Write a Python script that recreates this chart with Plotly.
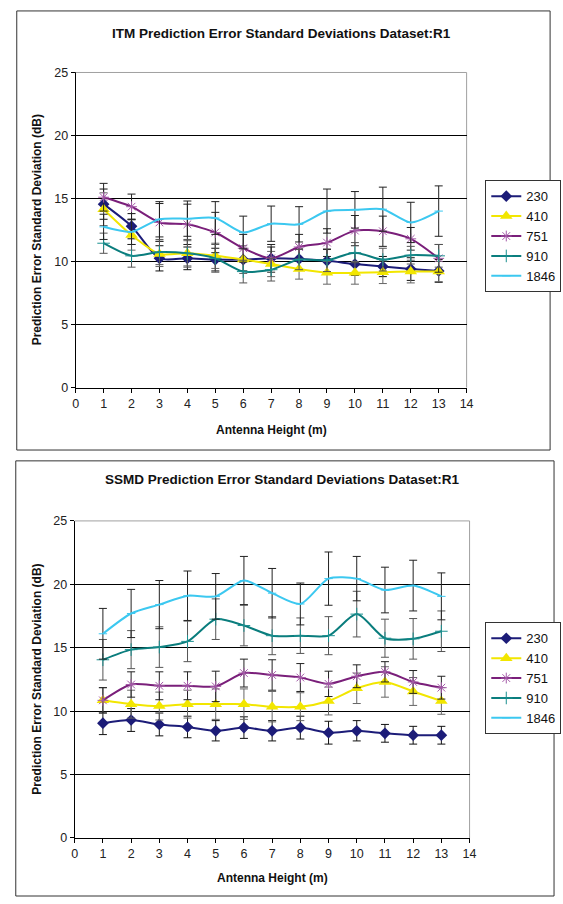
import plotly.graph_objects as go

heights = [1, 2, 3, 4, 5, 6, 7, 8, 9, 10, 11, 12, 13]
series_names = ["230", "410", "751", "910", "1846"]

# ITM chart values
itm_230 = [14.55, 12.8, 10.25, 10.25, 10.15, 10.15, 10.25, 10.2, 10.05, 9.8, 9.6, 9.4, 9.25]
itm_230_err = [1.2, 1.0, 1.0, 0.9, 0.9, 0.9, 0.9, 0.8, 0.9, 0.9, 0.8, 0.9, 0.9]
itm_410 = [14.15, 12.1, 10.6, 10.65, 10.45, 10.15, 9.8, 9.4, 9.1, 9.1, 9.15, 9.2, 9.2]
itm_410_err = [1.3, 1.2, 1.0, 1.0, 1.0, 1.1, 1.0, 0.8, 0.9, 0.9, 0.9, 0.9, 0.8]
itm_751 = [15.1, 14.35, 13.1, 12.95, 12.3, 11.05, 10.25, 11.15, 11.5, 12.45, 12.4, 11.8, 10.25]
itm_751_err = [1.1, 1.0, 1.5, 1.6, 1.6, 1.1, 1.1, 1.0, 1.1, 1.2, 1.2, 0.9, 1.1]
itm_910 = [11.45, 10.45, 10.75, 10.65, 10.25, 9.2, 9.35, 10.15, 10.1, 10.7, 10.15, 10.5, 10.45]
itm_910_err = [0.8, 0.9, 1.0, 1.1, 1.1, 0.9, 0.9, 0.8, 0.9, 0.8, 0.9, 0.7, 0.9]
itm_1846 = [12.75, 12.35, 13.35, 13.4, 13.45, 12.3, 13.0, 12.95, 14.0, 14.1, 14.15, 13.1, 14.0]
itm_1846_err = [1.0, 1.0, 1.4, 1.4, 1.3, 1.3, 1.4, 1.4, 1.75, 1.45, 1.75, 1.6, 2.0]

# SSMD chart values
ssmd_230 = [9.05, 9.3, 8.95, 8.75, 8.45, 8.7, 8.45, 8.7, 8.3, 8.45, 8.25, 8.1, 8.1]
ssmd_230_err = [0.9, 0.9, 0.9, 0.85, 0.8, 0.85, 0.8, 0.9, 0.9, 0.8, 0.7, 0.7, 0.7]
ssmd_410 = [10.85, 10.55, 10.4, 10.55, 10.55, 10.55, 10.35, 10.35, 10.8, 11.8, 12.3, 11.55, 10.8]
ssmd_410_err = [1.0, 1.1, 1.1, 1.1, 1.2, 1.2, 1.2, 1.1, 1.1, 1.2, 1.2, 1.1, 1.05]
ssmd_751 = [10.85, 12.1, 12.0, 12.0, 11.95, 13.0, 12.85, 12.65, 12.15, 12.75, 13.1, 12.3, 11.85]
ssmd_751_err = [1.0, 1.0, 1.1, 1.1, 1.2, 1.1, 1.2, 1.1, 1.0, 0.9, 0.8, 0.9, 0.9]
ssmd_910 = [14.05, 14.85, 15.05, 15.5, 17.25, 16.75, 15.95, 15.95, 15.95, 17.65, 15.75, 15.7, 16.3]
ssmd_910_err = [1.6, 1.5, 1.6, 1.6, 1.6, 1.6, 1.5, 1.4, 1.5, 1.8, 1.5, 1.6, 1.6]
ssmd_1846 = [16.1, 17.7, 18.4, 19.1, 19.05, 20.3, 19.3, 18.45, 20.45, 20.45, 19.55, 19.9, 19.05]
ssmd_1846_err = [2.0, 1.9, 1.9, 1.95, 1.8, 1.9, 1.95, 1.65, 2.1, 1.75, 1.8, 2.0, 1.85]

x_ticks = list(range(0, 15))
y_ticks = [0, 5, 10, 15, 20, 25]

titles = ["ITM Prediction Error Standard Deviations Dataset:R1",
          "SSMD Prediction Error Standard Deviations Dataset:R1"]
x_title = "Antenna Height (m)"
y_title = "Prediction Error Standard Deviation (dB)"

W, H = 563, 904
FONT = "Liberation Sans, Arial, sans-serif"

styles = {
    "230": dict(line="#1c1c78", marker=dict(symbol="diamond", size=9, color="#1c1c78"), err="#111111"),
    "410": dict(line="#f2e600", marker=dict(symbol="triangle-up", size=11, color="#f2e600"), err="#666666"),
    "751": dict(line="#7a1f7a", marker=dict(symbol="asterisk-open", size=9, color="#a45aa8", line=dict(width=1, color="#a45aa8")), err="#222222"),
    "910": dict(line="#0a7d7d", marker=dict(symbol="cross-thin-open", size=9, color="#1a9090", line=dict(width=1, color="#1a9090")), err="#555555"),
    "1846": dict(line="#3cc8f0", marker=dict(symbol="line-ew-open", size=6, color="#3cc8f0", line=dict(width=1, color="#3cc8f0")), err="#222222"),
}

charts = [
    dict(vals=[itm_230, itm_410, itm_751, itm_910, itm_1846],
         errs=[itm_230_err, itm_410_err, itm_751_err, itm_910_err, itm_1846_err],
         xdom=(74, 472), ydom=(386.5, 66.5), box=(14, 4, 557, 450),
         title_y=27, title_x=284, xt_y=430, yt_x=35, leg=(491, 176), legend="legend"),
    dict(vals=[ssmd_230, ssmd_410, ssmd_751, ssmd_910, ssmd_1846],
         errs=[ssmd_230_err, ssmd_410_err, ssmd_751_err, ssmd_910_err, ssmd_1846_err],
         xdom=(73, 475), ydom=(844, 522), box=(13, 461, 561, 903),
         title_y=480, title_x=285, xt_y=885, yt_x=35, leg=(491, 625), legend="legend2"),
]

fig = go.Figure()
shapes = []
annotations = []
layout_extra = {}

for i, ch in enumerate(charts):
    xa = "x" if i == 0 else "x2"
    ya = "y" if i == 0 else "y2"
    for name, vals, errs in zip(series_names, ch["vals"], ch["errs"]):
        st = styles[name]
        fig.add_trace(go.Scatter(
            x=heights, y=vals, name=name, xaxis=xa, yaxis=ya,
            mode="lines+markers",
            line=dict(color=st["line"], width=2, shape="spline", smoothing=0.7),
            marker=st["marker"],
            error_y=dict(type="data", array=errs, visible=True, color=st["err"], thickness=1, width=4),
            legend=ch["legend"],
        ))
    x0, x1 = ch["xdom"]
    yb, yt = ch["ydom"]
    xkey = "xaxis" if i == 0 else "xaxis2"
    ykey = "yaxis" if i == 0 else "yaxis2"
    layout_extra[xkey] = dict(
        domain=[x0 / W, x1 / W], range=[0, 14], tickvals=x_ticks, anchor=ya,
        showline=True, linecolor="#000", linewidth=1, ticks="outside", ticklen=4, tickcolor="#000",
        showgrid=False, zeroline=False, tickfont=dict(family=FONT, size=12.5, color="#222"),
    )
    layout_extra[ykey] = dict(
        domain=[(H - yb) / H, (H - yt) / H], range=[0, 25], tickvals=y_ticks, anchor=xa,
        showline=True, linecolor="#000", linewidth=1, ticks="outside", ticklen=4, tickcolor="#000",
        showgrid=True, gridcolor="#000", gridwidth=1, zeroline=False,
        tickfont=dict(family=FONT, size=12.5, color="#222"),
    )
    bx0, by0, bx1, by1 = ch["box"]
    shapes.append(dict(type="rect", xref="paper", yref="paper",
                       x0=bx0 / W, x1=bx1 / W, y0=(H - by1) / H, y1=(H - by0) / H,
                       line=dict(color="#333", width=1), fillcolor="rgba(0,0,0,0)", layer="below"))
    shapes.append(dict(type="line", xref="paper", yref="paper",
                       x0=x0 / W, x1=x1 / W, y0=(H - yt) / H, y1=(H - yt) / H,
                       line=dict(color="#a0a0a0", width=1), layer="above"))
    shapes.append(dict(type="line", xref="paper", yref="paper",
                       x0=x1 / W, x1=x1 / W, y0=(H - yb) / H, y1=(H - yt) / H,
                       line=dict(color="#a0a0a0", width=1), layer="below"))
    annotations.append(dict(text="<b>%s</b>" % titles[i], xref="paper", yref="paper",
                            x=ch["title_x"] / W, y=(H - ch["title_y"]) / H, showarrow=False,
                            xanchor="center", yanchor="middle",
                            font=dict(family=FONT, size=13.5, color="#111")))
    annotations.append(dict(text="<b>%s</b>" % x_title, xref="paper", yref="paper",
                            x=(x0 + x1) / 2 / W, y=(H - ch["xt_y"]) / H, showarrow=False,
                            xanchor="center", yanchor="middle",
                            font=dict(family=FONT, size=12, color="#111")))
    annotations.append(dict(text="<b>%s</b>" % y_title, xref="paper", yref="paper",
                            x=ch["yt_x"] / W, y=(H - (yb + yt) / 2) / H, showarrow=False,
                            textangle=-90, xanchor="center", yanchor="middle",
                            font=dict(family=FONT, size=12, color="#111")))
    lx, ly = ch["leg"]
    layout_extra[ch["legend"]] = dict(
        x=lx / W, y=(H - ly) / H, xanchor="left", yanchor="top", xref="paper", yref="paper",
        bordercolor="#333", borderwidth=1, bgcolor="white",
        font=dict(family=FONT, size=13, color="#111"), tracegroupgap=0, itemwidth=30,
    )

fig.update_layout(
    width=W, height=H, margin=dict(l=0, r=0, t=0, b=0),
    paper_bgcolor="white", plot_bgcolor="white",
    shapes=shapes, annotations=annotations, showlegend=True,
    font=dict(family=FONT),
    **layout_extra,
)

fig.write_html("out.html", config={"displayModeBar": False},
               post_script="document.body.style.margin='0px';")
